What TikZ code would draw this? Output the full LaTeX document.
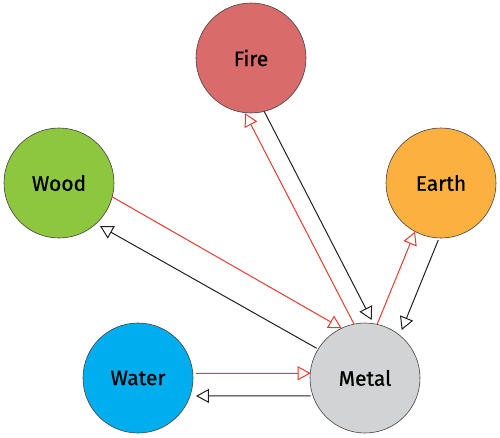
\documentclass[tikz,border=0pt]{standalone}
\usepackage{fontspec}
\setmainfont{Fira Sans}
\newfontface\medfont{Fira Sans}[FakeBold=0.8]
\usetikzlibrary{arrows.meta,calc}
\definecolor{firec}{HTML}{D96B6B}
\definecolor{woodc}{HTML}{8DC63F}
\definecolor{earthc}{HTML}{FBB040}
\definecolor{waterc}{HTML}{00AEEF}
\definecolor{metalc}{HTML}{D1D3D4}
\definecolor{redl}{HTML}{E63A2C}
\definecolor{blackl}{HTML}{231F20}
\tikzset{
  element/.style={circle, draw=blackl!85, line width=0.6pt, minimum size=110pt, inner sep=0pt, font=\medfont\fontsize{21}{25}\selectfont},
  redarrow/.style={draw=redl, line width=1pt, -{Triangle[open, length=13pt, width=14pt, line width=1pt]}},
  blackarrow/.style={draw=blackl, line width=1pt, -{Triangle[open, length=13pt, width=14pt, line width=1pt]}},
}
\begin{document}
\begin{tikzpicture}[x=1pt,y=-1pt]
\useasboundingbox (0,0) rectangle (500,437);
\node[element, fill=firec] (Fire) at (251,58) {Fire};
\node[element, fill=woodc] (Wood) at (59,183) {Wood};
\node[element, fill=earthc] (Earth) at (441,183) {Earth};
\node[element, fill=waterc] (Water) at (138,378) {Water};
\node[element, fill=metalc] (Metal) at (365,378) {Metal};
% Fire
\draw[redarrow] ($(Metal)+(-101.5:55)$) -- ($(Fire)+(-263.8:55.5)$);
\draw[blackarrow] ($(Fire)+(-283.9:55)$) -- ($(Metal)+(-83.4:58.4)$);
% Wood
\draw[redarrow] ($(Wood)+(14.6:55)$) -- ($(Metal)+(-115.1:55)$);
\draw[blackarrow] ($(Metal)+(-148.4:56.7)$) -- ($(Wood)+(46.4:59.4)$);
% Earth
\draw[redarrow] ($(Metal)+(-77.2:55.4)$) -- ($(Earth)+(-241.9:55.2)$);
\draw[blackarrow] ($(Earth)+(-267.3:57)$) -- ($(Metal)+(-52.6:60.4)$);
% Water
\draw[redarrow] ($(Water)+(-4.6:58.2)$) -- ($(Metal)+(-175:54.5)$);
\draw[blackarrow] ($(Metal)+(-198.3:57.2)$) -- ($(Water)+(17.2:60.7)$);
\end{tikzpicture}
\end{document}
